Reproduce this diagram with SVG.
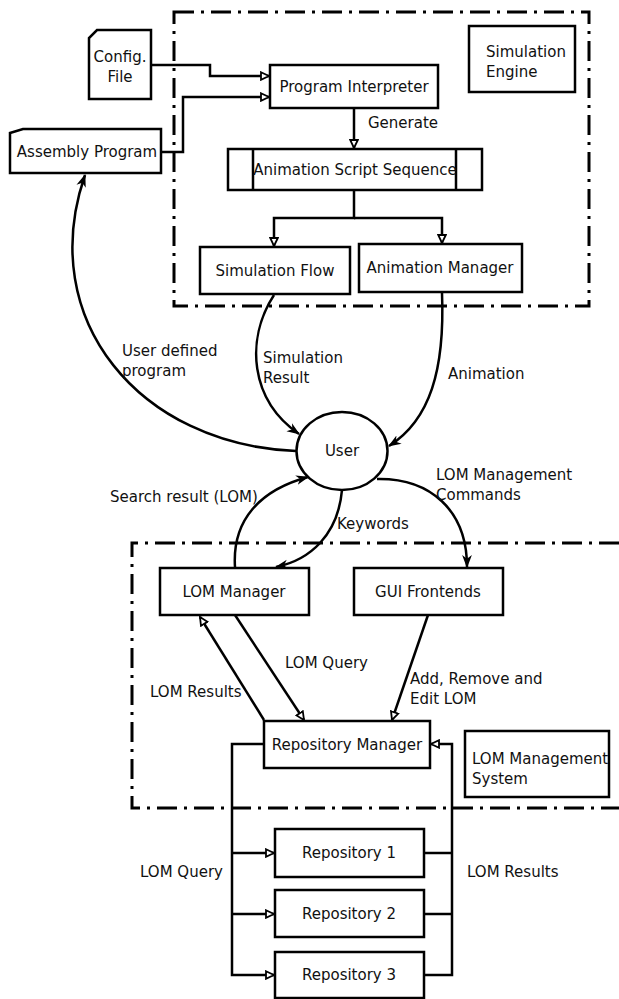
<svg xmlns="http://www.w3.org/2000/svg" width="619" height="999" viewBox="0 0 619 999">
<defs>
<style>
.b{fill:#fff;stroke:#000;stroke-width:2.5}
.dd{fill:none;stroke:#000;stroke-width:3;stroke-dasharray:20 7 3 7}
.c{fill:none;stroke:#000;stroke-width:2.5}
.t{font-family:"DejaVu Sans",Verdana,sans-serif;font-size:15px;fill:#111}
.m{text-anchor:middle}
</style>
<marker id="tri" viewBox="0 0 10 10" refX="9" refY="5" markerWidth="10" markerHeight="10" markerUnits="userSpaceOnUse" orient="auto">
<path d="M1,1.2 L9,5 L1,8.8 Z" fill="#fff" stroke="#000" stroke-width="1.8"/>
</marker>
<marker id="arr" viewBox="0 0 12 10" refX="11" refY="5" markerWidth="13" markerHeight="11" markerUnits="userSpaceOnUse" orient="auto">
<path d="M0,0.5 L12,5 L0,9.5 L3.5,5 Z" fill="#000"/>
</marker>
</defs>
<rect width="619" height="999" fill="#fff"/>

<g id="groups">
<rect class="dd" x="174" y="12" width="415" height="294"/>
<path class="dd" d="M619,543 H132 V808 H619"/>
</g>

<g id="connectors">
<path class="c" d="M151,65 H210 V76 H269" marker-end="url(#tri)"/>
<path class="c" d="M161,152 H183 V97 H269" marker-end="url(#tri)"/>
<path class="c" d="M354,108 V148" marker-end="url(#tri)"/>
<path class="c" d="M354,190 V218 H274 V246" marker-end="url(#tri)"/>
<path class="c" d="M354,218 H442 V243" marker-end="url(#tri)"/>
<path class="c" d="M296,451 C140,445 35,320 85,175" marker-end="url(#arr)"/>
<path class="c" d="M274,295 C245,340 250,400 299,434" marker-end="url(#arr)"/>
<path class="c" d="M442,293 C445,370 430,420 389,446" marker-end="url(#arr)"/>
<path class="c" d="M235,567 C232,520 260,490 308,477" marker-end="url(#arr)"/>
<path class="c" d="M342,490 C338,535 310,560 276,567" marker-end="url(#arr)"/>
<path class="c" d="M377,479 C430,478 467,510 467,567" marker-end="url(#arr)"/>
<path class="c" d="M264,720 L200,617" marker-end="url(#tri)"/>
<path class="c" d="M235,615 L304,720" marker-end="url(#tri)"/>
<path class="c" d="M428,615 L392,720" marker-end="url(#tri)"/>
<path class="c" d="M264,744 H232 V975 H274" marker-end="url(#tri)"/>
<path class="c" d="M232,853 H274" marker-end="url(#tri)"/>
<path class="c" d="M232,914 H274" marker-end="url(#tri)"/>
<path class="c" d="M424,853 H452"/>
<path class="c" d="M424,914 H452"/>
<path class="c" d="M424,975 H452 V744 H431" marker-end="url(#tri)"/>
</g>

<g id="labels">
<text class="t" x="368" y="128">Generate</text>
<text class="t" x="263" y="363">Simulation</text>
<text class="t" x="263" y="383">Result</text>
<text class="t" x="122" y="356">User defined</text>
<text class="t" x="122" y="376">program</text>
<text class="t" x="448" y="379">Animation</text>
<text class="t" x="110" y="502">Search result (LOM)</text>
<text class="t" x="337" y="529">Keywords</text>
<text class="t" x="436" y="480">LOM Management</text>
<text class="t" x="436" y="500">Commands</text>
<text class="t" x="285" y="668">LOM Query</text>
<text class="t" x="150" y="697">LOM Results</text>
<text class="t" x="410" y="684">Add, Remove and</text>
<text class="t" x="410" y="704">Edit LOM</text>
<text class="t" x="140" y="877">LOM Query</text>
<text class="t" x="467" y="877">LOM Results</text>
</g>

<g id="config-file">
<path class="b" d="M97,30 H151 V99 H89 V38 Z"/>
<text class="t m" x="120" y="62">Config.</text>
<text class="t m" x="120" y="82">File</text>
</g>
<g id="assembly-program">
<path class="b" d="M23,129 H161 V173 H10 V133 Z"/>
<text class="t m" x="87" y="157">Assembly Program</text>
</g>
<g id="program-interpreter">
<rect class="b" x="270" y="65" width="168" height="43"/>
<text class="t m" x="354" y="92">Program Interpreter</text>
</g>
<g id="simulation-engine">
<rect class="b" x="469" y="26" width="106" height="66"/>
<text class="t" x="486" y="57">Simulation</text>
<text class="t" x="486" y="77">Engine</text>
</g>
<g id="animation-script-sequence">
<rect class="b" x="228" y="149" width="254" height="41"/>
<path class="c" d="M253,149 V190 M456,149 V190"/>
<text class="t m" x="355" y="175">Animation Script Sequence</text>
</g>
<g id="simulation-flow">
<rect class="b" x="200" y="247" width="150" height="47"/>
<text class="t m" x="275" y="276">Simulation Flow</text>
</g>
<g id="animation-manager">
<rect class="b" x="359" y="244" width="163" height="48"/>
<text class="t m" x="440" y="273">Animation Manager</text>
</g>
<g id="user">
<ellipse class="b" cx="342" cy="451" rx="45.5" ry="39"/>
<text class="t m" x="342" y="456">User</text>
</g>
<g id="lom-manager">
<rect class="b" x="160" y="568" width="149" height="47"/>
<text class="t m" x="234" y="597">LOM Manager</text>
</g>
<g id="gui-frontends">
<rect class="b" x="354" y="568" width="149" height="47"/>
<text class="t m" x="428" y="597">GUI Frontends</text>
</g>
<g id="repository-manager">
<rect class="b" x="264" y="721" width="166" height="47"/>
<text class="t m" x="347" y="750">Repository Manager</text>
</g>
<g id="lom-management-system">
<rect class="b" x="465" y="731" width="144" height="66"/>
<text class="t" x="472" y="764">LOM Management</text>
<text class="t" x="472" y="784">System</text>
</g>
<g id="repository-1">
<rect class="b" x="275" y="829" width="149" height="48"/>
<text class="t m" x="349" y="858">Repository 1</text>
</g>
<g id="repository-2">
<rect class="b" x="275" y="890" width="149" height="47"/>
<text class="t m" x="349" y="919">Repository 2</text>
</g>
<g id="repository-3">
<rect class="b" x="275" y="952" width="149" height="46"/>
<text class="t m" x="349" y="980">Repository 3</text>
</g>
</svg>
